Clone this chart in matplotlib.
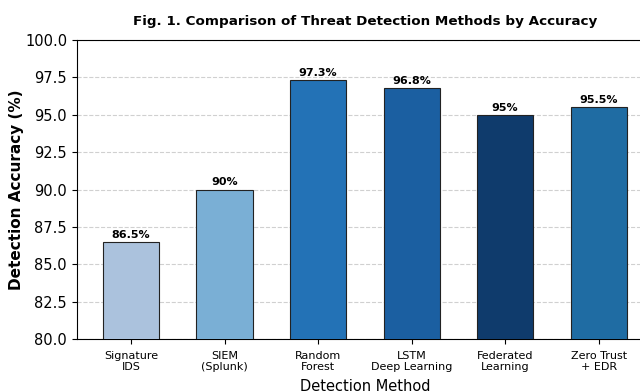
import matplotlib.pyplot as plt

# Accuracy of each detection approach (%)
methods = ["Signature\nIDS", "SIEM\n(Splunk)", "Random\nForest", "LSTM\nDeep Learning",
           "Federated\nLearning", "Zero Trust\n+ EDR"]
accuracy = [86.5, 90.0, 97.3, 96.8, 95.0, 95.5]
value_labels = ["86.5%", "90%", "97.3%", "96.8%", "95%", "95.5%"]
colors = ["#abc2dd", "#7aafd5", "#2372b6", "#1b5fa1", "#0f3b6c", "#1f6ca3"]

fig = plt.figure(figsize=(6.4, 3.92), dpi=100)
ax = fig.add_axes([0.120, 0.135, 0.900, 0.763])

x = range(len(methods))
bars = ax.bar(x, accuracy, width=0.6, color=colors, edgecolor="#222222", linewidth=0.8, zorder=3)

for bar, lab in zip(bars, value_labels):
    ax.text(bar.get_x() + bar.get_width() / 2, bar.get_height() + 0.15, lab,
            ha="center", va="bottom", fontsize=8, fontweight="bold")

ax.set_ylim(80, 100)
ax.set_yticks([80 + 2.5 * i for i in range(9)])
ax.set_yticklabels([f"{80 + 2.5 * i:.1f}" for i in range(9)], fontsize=10.5)
ax.set_xticks(list(x))
ax.set_xticklabels(methods, fontsize=8)
ax.tick_params(axis="x", pad=5)
ax.set_xlim(-0.58, 5.58)

ax.set_ylabel("Detection Accuracy (%)", fontsize=11, fontweight="bold")
ax.yaxis.set_label_coords(-0.092, 0.5)
ax.set_xlabel("Detection Method", fontsize=10.5, labelpad=5)
ax.yaxis.grid(True, linestyle="--", color="#d0d0d0", linewidth=0.8, zorder=0)
ax.set_axisbelow(True)

ax.set_title("Fig. 1. Comparison of Threat Detection Methods by Accuracy",
             fontsize=9.7, fontweight="bold", pad=11)

fig.savefig("out.png", dpi=100)
